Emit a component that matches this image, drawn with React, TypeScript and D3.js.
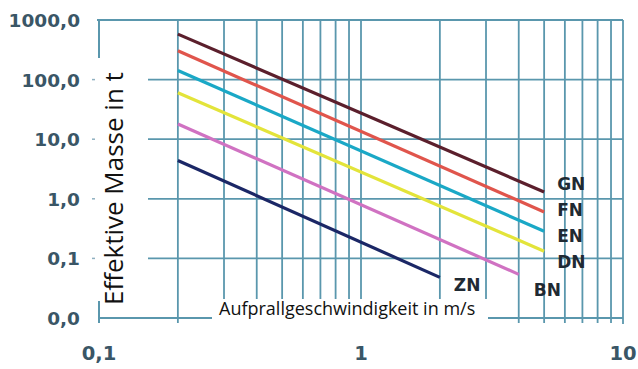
import { useEffect, useRef } from "react";
import * as d3 from "d3";

const seriesNames = ["GN", "FN", "EN", "DN", "BN", "ZN"];
const speedStart = [0.2, 0.2, 0.2, 0.2, 0.2, 0.2];
const speedEnd = [5, 5, 5, 5, 4, 2];
const massStart = [580, 305, 142, 60, 18, 4.4];
const massEnd = [1.3, 0.6, 0.285, 0.132, 0.054, 0.048];
const seriesColors = ["#5b1f2c", "#e0554c", "#1aa8c6", "#e3e43a", "#d072c2", "#1b2766"];

const yTicks = [1000, 100, 10, 1, 0.1, 0.01];
const yTickLabels = ["1000,0", "100,0", "10,0", "1,0", "0,1", "0,0"];
const xTicks = [0.1, 1, 10];
const xTickLabels = ["0,1", "1", "10"];
const xGrid = [0.2, 0.3, 0.4, 0.5, 0.6, 0.7, 0.8, 0.9, 1, 2, 3, 4, 5, 6, 7, 8, 9, 10];

export default function App() {
  const ref = useRef<SVGSVGElement | null>(null);

  useEffect(() => {
    const width = 638;
    const height = 369;
    const svg = d3.select(ref.current);
    svg.selectAll("*").remove();

    const x = d3.scaleLog().domain([0.1, 10]).range([99, 623]);
    const y = d3.scaleLog().domain([0.01, 1000]).range([318, 20]);
    const gridColor = "#5a97ad";

    svg.append("rect").attr("width", width).attr("height", height).attr("fill", "#ffffff");

    // vertical grid
    svg.append("g")
      .selectAll("line")
      .data(xGrid)
      .enter()
      .append("line")
      .attr("x1", d => x(d))
      .attr("x2", d => x(d))
      .attr("y1", y(1000))
      .attr("y2", d => (d === 10 ? y(0.01) + 6 : y(0.01) + 5))
      .attr("stroke", gridColor)
      .attr("stroke-width", 1.8);

    // left axis line
    svg.append("line")
      .attr("x1", x(0.1)).attr("x2", x(0.1))
      .attr("y1", y(1000)).attr("y2", y(0.01) + 5)
      .attr("stroke", gridColor).attr("stroke-width", 2);

    // horizontal grid
    svg.append("g")
      .selectAll("line")
      .data(yTicks)
      .enter()
      .append("line")
      .attr("x1", d => (d === 1000 ? x(0.1) - 2 : d === 0.01 ? x(0.1) : 148))
      .attr("x2", x(10))
      .attr("y1", d => y(d))
      .attr("y2", d => y(d))
      .attr("stroke", gridColor)
      .attr("stroke-width", 1.8);

    // small tick marks left of the axis
    svg.append("g")
      .selectAll("line")
      .data(yTicks.slice(1, 5))
      .enter()
      .append("line")
      .attr("x1", 92).attr("x2", 95)
      .attr("y1", d => y(d)).attr("y2", d => y(d))
      .attr("stroke", "#8fb0c0").attr("stroke-width", 1.5);

    // series
    const line = d3.line<[number, number]>().x(d => x(d[0])).y(d => y(d[1]));
    seriesNames.forEach((name, i) => {
      const pts: [number, number][] = [[speedStart[i], massStart[i]], [speedEnd[i], massEnd[i]]];
      svg.append("path")
        .attr("d", line(pts))
        .attr("fill", "none")
        .attr("stroke", seriesColors[i])
        .attr("stroke-width", 3.2);
    });

    // series labels
    seriesNames.forEach((name, i) => {
      let lx = x(speedEnd[i]) + 13;
      let ly = 190 + i * 26;
      if (name === "ZN") { lx = x(speedEnd[i]) + 14; ly = y(massEnd[i]) + 14; }
      if (name === "BN") { lx = x(speedEnd[i]) + 15; ly = y(massEnd[i]) + 22; }
      svg.append("text")
        .attr("x", lx)
        .attr("y", ly)
        .attr("font-family", "DejaVu Sans")
        .attr("font-weight", "bold")
        .attr("font-size", 17)
        .attr("fill", "#1f2a33")
        .text(name);
    });

    // y tick labels
    svg.append("g")
      .selectAll("text")
      .data(yTicks)
      .enter()
      .append("text")
      .attr("x", 80)
      .attr("y", d => y(d) + 7)
      .attr("text-anchor", "end")
      .attr("font-family", "DejaVu Sans")
      .attr("font-weight", "bold")
      .attr("font-size", 18.5)
      .attr("fill", "#3a5666")
      .text((d, i) => yTickLabels[i]);

    // x tick labels
    svg.append("g")
      .selectAll("text")
      .data(xTicks)
      .enter()
      .append("text")
      .attr("x", d => x(d))
      .attr("y", 360)
      .attr("text-anchor", "middle")
      .attr("font-family", "DejaVu Sans")
      .attr("font-weight", "bold")
      .attr("font-size", 19.5)
      .attr("fill", "#3a5666")
      .text((d, i) => xTickLabels[i]);

    // axis title boxes
    svg.append("rect").attr("x", 97).attr("y", 58).attr("width", 40).attr("height", 243).attr("fill", "#ffffff");
    svg.append("text")
      .attr("transform", "translate(123,305) rotate(-90)")
      .attr("font-family", "Open Sans")
      .attr("font-size", 26)
      .attr("fill", "#111111")
      .text("Effektive Masse in t");

    svg.append("rect").attr("x", 212).attr("y", 299).attr("width", 276).attr("height", 24).attr("fill", "#ffffff");
    svg.append("text")
      .attr("x", 219)
      .attr("y", 315)
      .attr("font-family", "Open Sans")
      .attr("font-size", 18)
      .attr("fill", "#111111")
      .text("Aufprallgeschwindigkeit in m/s");
  }, []);

  return (
    <svg
      ref={ref}
      width={638}
      height={369}
      style={{ position: "absolute", left: 0, top: 0, display: "block" }}
    />
  );
}
